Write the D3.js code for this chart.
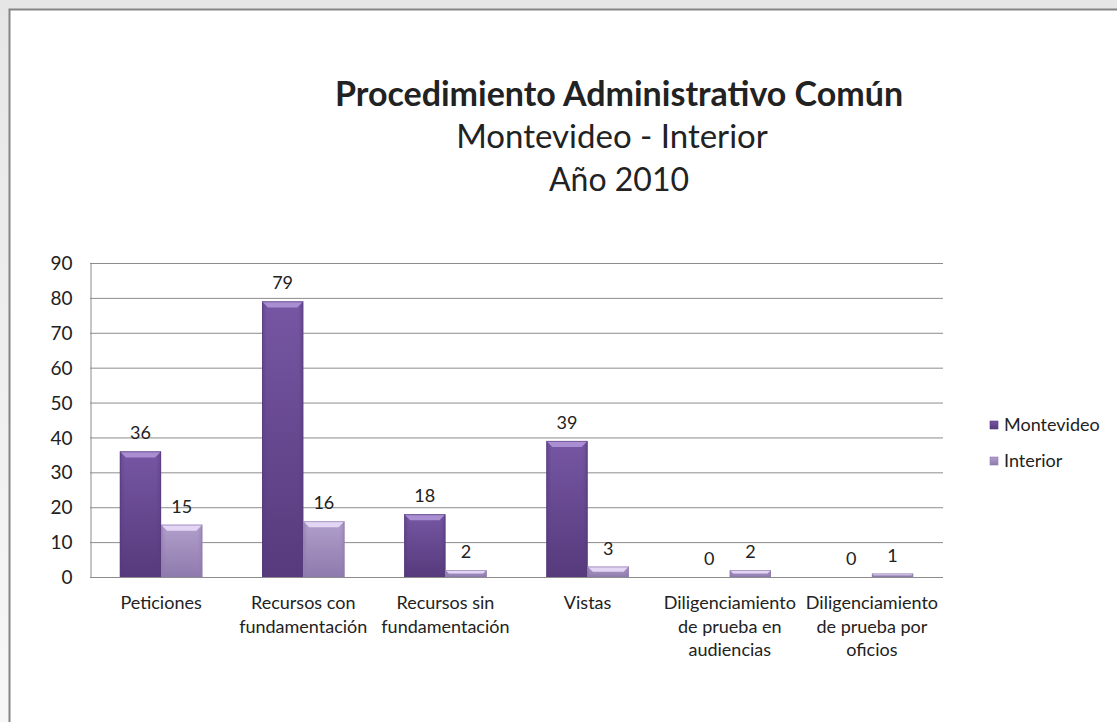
<!DOCTYPE html>
<html>
<head>
<meta charset="utf-8">
<script src="https://cdn.jsdelivr.net/npm/d3@7"></script>
<style>
  body { margin: 0; background: #fff; }
  text { font-family: Lato, "Open Sans", sans-serif; fill: #222; }
</style>
</head>
<body>
<script>
const categories = [
    ['Peticiones'],
    ['Recursos con', 'fundamentación'],
    ['Recursos sin', 'fundamentación'],
    ['Vistas'],
    ['Diligenciamiento', 'de prueba en', 'audiencias'],
    ['Diligenciamiento', 'de prueba por', 'oficios']
];
const seriesNames = ['Montevideo', 'Interior'];
const montevideo = [36, 79, 18, 39, 0, 0];
const interior = [15, 16, 2, 3, 2, 1];
const yTicks = [0, 10, 20, 30, 40, 50, 60, 70, 80, 90];

const width = 1117;
const height = 722;
const plot = {left: 90, right: 943, top: 263, bottom: 577};

const svg = d3.select('body').append('svg')
    .attr('width', width)
    .attr('height', height);

const defs = svg.append('defs');
const shadow = defs.append('linearGradient').attr('id', 'pageShade')
    .attr('x1', 0).attr('y1', 0).attr('x2', 0).attr('y2', 1);
shadow.append('stop').attr('offset', 0).attr('stop-color', '#e6e6e6');
shadow.append('stop').attr('offset', 1).attr('stop-color', '#f7f7f7');

const colors = [
    {dark: '#563a7c', mid: '#7656a3', light: '#a98ed2'},
    {dark: '#8f7aad', mid: '#b19fcb', light: '#e2d6f4'}
];
colors.forEach((c, i) => {
    const g = defs.append('linearGradient').attr('id', 'bar' + i)
        .attr('x1', 0).attr('y1', 0).attr('x2', 0).attr('y2', 1);
    g.append('stop').attr('offset', 0).attr('stop-color', c.mid);
    g.append('stop').attr('offset', 1).attr('stop-color', c.dark);
    const s = defs.append('linearGradient').attr('id', 'side' + i)
        .attr('x1', 0).attr('y1', 0).attr('x2', 1).attr('y2', 0);
    s.append('stop').attr('offset', 0).attr('stop-color', c.dark).attr('stop-opacity', 0.5);
    s.append('stop').attr('offset', 0.12).attr('stop-color', c.dark).attr('stop-opacity', 0);
    s.append('stop').attr('offset', 0.88).attr('stop-color', c.dark).attr('stop-opacity', 0);
    s.append('stop').attr('offset', 1).attr('stop-color', c.dark).attr('stop-opacity', 0.5);
});

// page background + chart frame
svg.append('rect').attr('width', width).attr('height', height).attr('fill', 'url(#pageShade)');
svg.append('rect')
    .attr('x', 9.5).attr('y', 9.5)
    .attr('width', width + 20).attr('height', height + 20)
    .attr('fill', '#fff')
    .attr('stroke', '#858585')
    .attr('stroke-width', 2);

// title
const title = svg.append('text')
    .attr('text-anchor', 'middle')
    .attr('x', 619);
title.append('tspan').attr('x', 619).attr('y', 106)
    .style('font-weight', 'bold').style('font-size', '34px')
    .text('Procedimiento Administrativo Común');
title.append('tspan').attr('x', 612).attr('y', 148)
    .style('font-size', '33px')
    .text('Montevideo - Interior');
title.append('tspan').attr('x', 619).attr('y', 191)
    .style('font-size', '32px')
    .text('Año 2010');

const x0 = d3.scaleBand()
    .domain(d3.range(categories.length))
    .range([plot.left, plot.right])
    .paddingInner(0.42)
    .paddingOuter(0.21);

const x1 = d3.scaleBand()
    .domain([0, 1])
    .range([0, x0.bandwidth()]);

const y = d3.scaleLinear()
    .domain([0, 90])
    .range([plot.bottom, plot.top]);

// gridlines
svg.append('g')
    .selectAll('line')
    .data(yTicks.slice(1))
    .join('line')
    .attr('x1', plot.left).attr('x2', plot.right)
    .attr('y1', d => y(d) + 0.5).attr('y2', d => y(d) + 0.5)
    .attr('stroke', '#8c8c8c')
    .attr('stroke-width', 1);

// y axis
const yAxis = d3.axisLeft(y)
    .tickValues(yTicks)
    .tickSize(0)
    .tickPadding(18);
const yG = svg.append('g')
    .attr('transform', `translate(${plot.left + 0.5},0.5)`)
    .call(yAxis);
yG.select('.domain').attr('stroke', '#8c8c8c');
yG.selectAll('text').style('font-size', '19px').attr('fill', '#222');

const rows = categories.map((c, i) => ({i, values: [montevideo[i], interior[i]]}));

const groups = svg.append('g')
    .selectAll('g')
    .data(rows)
    .join('g')
    .attr('transform', d => `translate(${x0(d.i)},0)`);

const bars = groups.selectAll('g.bar')
    .data(d => d.values.map((v, s) => ({v, s})))
    .join('g')
    .attr('class', 'bar');

const bw = x1.bandwidth();
bars.filter(d => d.v > 0).each(function(d) {
    const g = d3.select(this);
    const bx = x1(d.s);
    const by = y(d.v);
    const bh = plot.bottom - by;
    const c = colors[d.s];
    g.append('rect')
        .attr('x', bx).attr('y', by).attr('width', bw).attr('height', bh)
        .attr('fill', `url(#bar${d.s})`);
    g.append('rect')
        .attr('x', bx).attr('y', by).attr('width', bw).attr('height', bh)
        .attr('fill', `url(#side${d.s})`);
    // bevel on top
    const bev = Math.min(6, bh / 2);
    g.append('path')
        .attr('d', `M${bx},${by}L${bx + bw},${by}L${bx + bw - bev},${by + bev}L${bx + bev},${by + bev}Z`)
        .attr('fill', c.light);
    g.append('rect')
        .attr('x', bx + 0.5).attr('y', by + 0.5).attr('width', bw - 1).attr('height', bh - 1)
        .attr('fill', 'none')
        .attr('stroke', c.dark)
        .attr('stroke-opacity', 0.6);
});

bars.append('text')
    .attr('x', d => x1(d.s) + bw / 2)
    .attr('y', d => y(d.v) - 12)
    .attr('text-anchor', 'middle')
    .style('font-size', '18px')
    .text(d => d.v);

// x axis baseline
svg.append('line')
    .attr('x1', plot.left).attr('x2', plot.right)
    .attr('y1', plot.bottom + 0.5).attr('y2', plot.bottom + 0.5)
    .attr('stroke', '#8c8c8c');

// category labels
svg.append('g')
    .selectAll('text')
    .data(categories)
    .join('text')
    .attr('text-anchor', 'middle')
    .style('font-size', '18px')
    .each(function(lines, i) {
        const cx = x0(i) + x0.bandwidth() / 2;
        d3.select(this).selectAll('tspan')
            .data(lines)
            .join('tspan')
            .attr('x', cx)
            .attr('y', (l, k) => 609 + k * 23.5)
            .text(l => l);
    });

// legend
const legend = svg.append('g')
    .selectAll('g')
    .data(seriesNames)
    .join('g')
    .attr('transform', (d, i) => `translate(990,${421 + i * 36})`);
legend.append('rect')
    .attr('width', 8).attr('height', 8)
    .attr('fill', (d, i) => `url(#bar${i})`)
    .attr('stroke', (d, i) => colors[i].dark)
    .attr('stroke-width', 0.6);
legend.append('text')
    .attr('x', 14).attr('y', 10)
    .style('font-size', '18px')
    .text(d => d);
</script>
</body>
</html>
